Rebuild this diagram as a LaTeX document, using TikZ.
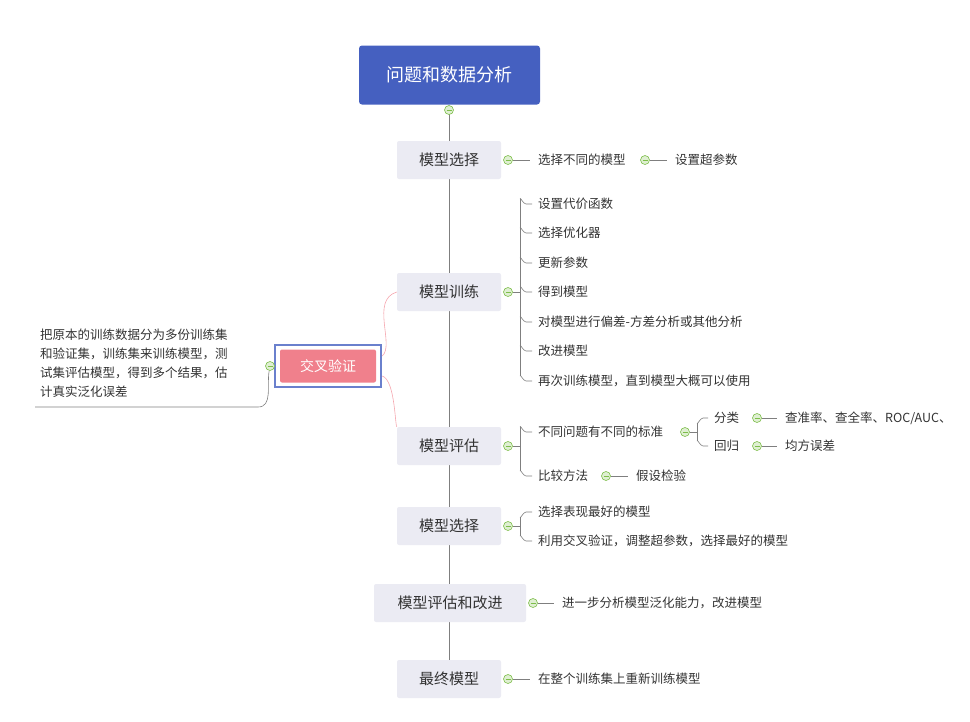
\documentclass[tikz,border=0pt]{standalone}
\usepackage{fontspec}
\setmainfont{Noto Sans CJK SC}
\usetikzlibrary{positioning}
\definecolor{titleblue}{HTML}{4560C0}
\definecolor{topicgray}{HTML}{EBEBF3}
\definecolor{linegray}{HTML}{7F7F7F}
\definecolor{pinkfill}{HTML}{F0808C}
\definecolor{knob}{HTML}{7DBE4A}
\tikzset{
  topic/.style={fill=topicgray, rounded corners=2pt, minimum height=38pt, minimum width=104pt, font=\fontsize{15}{17}\selectfont, text=black!80},
  leaf/.style={anchor=west, font=\fontsize{12.5}{14}\selectfont, text=black!80, inner sep=0pt},
  knobby/.style={circle, draw=knob, fill=knob!25, minimum size=9pt, inner sep=0pt, line width=0.6pt},
  conn/.style={draw=linegray, line width=0.6pt},
}
\newcommand{\knobat}[2]{\node[knobby] (#1) at #2 {}; \draw[knob, line width=0.6pt] ([xshift=-2.5pt]#1.center) -- ([xshift=2.5pt]#1.center);}
\begin{document}
\begin{tikzpicture}[x=1pt, y=-1pt]
  \useasboundingbox (0,0) rectangle (970,721);
  % trunk
  \draw[conn] (449,110) -- (449,680);
  \node[fill=titleblue, rounded corners=3pt, minimum width=181pt, minimum height=59pt, text=white, font=\fontsize{18}{20}\selectfont] (root) at (449.5,75) {问题和数据分析};
  \knobat{kroot}{(449,110)}
  \node[topic] (sel1) at (449,160) {模型选择};
  \node[topic] (train) at (449,292) {模型训练};
  \node[topic] (eval) at (449,446) {模型评估};
  \node[topic] (sel2) at (449,526) {模型选择};
  \node[topic, minimum width=152pt] (impr) at (450,603) {模型评估和改进};
  \node[topic] (final) at (449,679) {最终模型};
  % model selection
  \knobat{k1}{(508,160)}
  \node[leaf] (s1) at (538,160) {选择不同的模型};
  \knobat{k2}{(645,160)}
  \node[leaf] (s2) at (675,160) {设置超参数};
  \draw[conn] (k1) -- (s1.west -| 530,0);
  \draw[conn] (k2) -- (s2.west -| 667,0);
  % training
  \knobat{kt}{(508,292)}
  \draw[conn] (kt) -- (520,292);
  \foreach \name/\y/\txt in {t1/204/设置代价函数, t2/233/选择优化器, t3/263/更新参数, t4/292/得到模型,
      t5/322/对模型进行偏差-方差分析或其他分析, t6/351/改进模型, t7/381/再次训练模型，直到模型大概可以使用} {
    \node[leaf] (\name) at (538,\y) {\txt};
    \draw[conn] (520,\y-5) to[out=90, in=180] (526,\y) -- ([xshift=-6pt]\name.west);
  }
  \draw[conn] (520,199) -- (520,376);
  % evaluation
  \knobat{ke}{(508,446)}
  \draw[conn] (ke) -- (520,446);
  \node[leaf] (e1) at (538,432) {不同问题有不同的标准};
  \node[leaf] (e2) at (538,476) {比较方法};
  \foreach \y/\n in {432/e1, 476/e2} \draw[conn] (520,\y-5) to[out=90, in=180] (526,\y) -- ([xshift=-6pt]\n.west);
  \draw[conn] (520,427) -- (520,471);
  \knobat{ke1}{(685,432)}
  \draw[conn] (ke1) -- (697,432) (697,423) -- (697,441);
  \node[leaf] (c1) at (714,418) {分类};
  \node[leaf] (c2) at (714,446) {回归};
  \draw[conn] (697,423) to[out=-90, in=180] (703,418) -- ([xshift=-6pt]c1.west);
  \draw[conn] (697,441) to[out=90, in=180] (703,446) -- ([xshift=-6pt]c2.west);
  \knobat{kc1}{(757,418)}
  \knobat{kc2}{(757,446)}
  \node[leaf] (m1) at (785,418) {查准率、查全率、ROC/AUC、};
  \node[leaf] (m2) at (785,446) {均方误差};
  \draw[conn] (kc1) -- (m1.west -| 777,0) (kc2) -- (m2.west -| 777,0);
  \knobat{ke2}{(606,476)}
  \node[leaf] (h1) at (636,476) {假设检验};
  \draw[conn] (ke2) -- (h1.west -| 628,0);
  % second selection
  \knobat{ks}{(508,526)}
  \draw[conn] (ks) -- (520,526);
  \node[leaf] (p1) at (538,512) {选择表现最好的模型};
  \node[leaf] (p2) at (538,541) {利用交叉验证，调整超参数，选择最好的模型};
  \draw[conn] (520,517) to[out=-90, in=180] (526,512) -- ([xshift=-6pt]p1.west);
  \draw[conn] (520,536) to[out=90, in=180] (526,541) -- ([xshift=-6pt]p2.west);
  \draw[conn] (520,517) -- (520,536);
  % improvement and final
  \knobat{ki}{(533,603)}
  \node[leaf] (i1) at (562,603) {进一步分析模型泛化能力，改进模型};
  \draw[conn] (ki) -- (i1.west -| 554,0);
  \knobat{kf}{(508,679)}
  \node[leaf] (f1) at (538,679) {在整个训练集上重新训练模型};
  \draw[conn] (kf) -- (f1.west -| 530,0);
  % cross validation
  \node[draw=titleblue!80, line width=2.5pt, fill=white, minimum width=106pt, minimum height=42pt] (cvbox) at (328,366) {};
  \node[fill=pinkfill, rounded corners=2pt, minimum width=96pt, minimum height=33pt, text=white, font=\fontsize{14}{16}\selectfont] (cv) at (328,366) {交叉验证};
  \draw[pinkfill!70, line width=0.6pt] (train.west) .. controls (370,300) and (395,345) .. (cvbox.east |- 0,356);
  \draw[pinkfill!70, line width=0.6pt] (eval.north west) .. controls (395,425) and (395,380) .. (cvbox.east |- 0,376);
  \knobat{kcv}{(270,366)}
  \node[leaf, anchor=north west, align=left, font=\fontsize{12.5}{19}\selectfont] (note) at (40,329)
    {把原本的训练数据分为多份训练集\\和验证集，训练集来训练模型，测\\试集评估模型，得到多个结果，估\\计真实泛化误差};
  \draw[conn] (kcv) to[out=-100, in=0] (258,407) -- (35,407);
\end{tikzpicture}
\end{document}
